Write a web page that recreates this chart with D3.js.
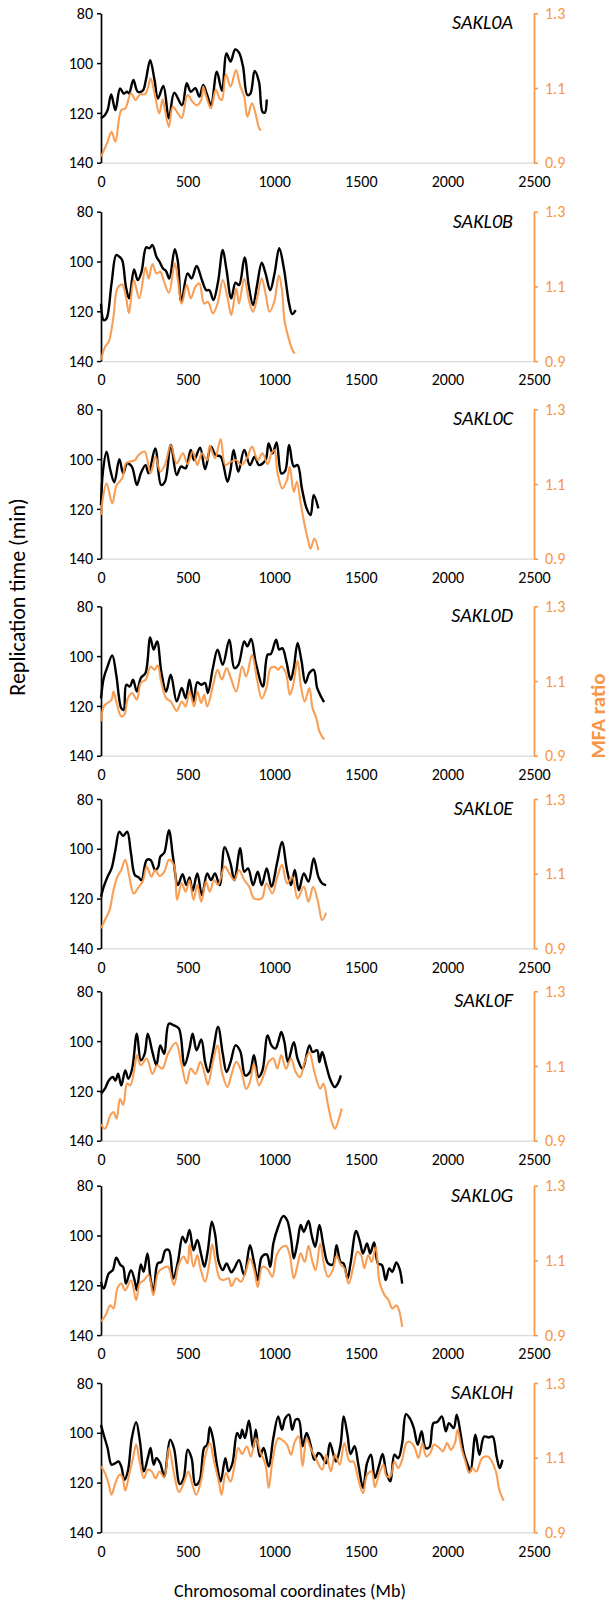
<!DOCTYPE html>
<html>
<head>
<meta charset="utf-8">
<script src="https://cdn.jsdelivr.net/npm/d3@7"></script>
<style>
  html, body { margin: 0; padding: 0; background: #ffffff; }
  svg { display: block; }
  text { font-family: Carlito, Lato, "Open Sans", sans-serif; }
</style>
</head>
<body>
<svg id="chart" width="612" height="1606"></svg>
<script>
// Chromosome labels
const chromosomes = ["SAKL0A", "SAKL0B", "SAKL0C", "SAKL0D", "SAKL0E", "SAKL0F", "SAKL0G", "SAKL0H"];

// Axis ticks
const xTicks = [0, 500, 1000, 1500, 2000, 2500];
const timeTicks = [80, 100, 120, 140];
const mfaTicks = [0.9, 1.1, 1.3];

// Replication time (min) along each chromosome: [coordinate, minutes]
const repA = [[0,122.2],[22,120.9],[38,118.9],[59,112.6],[83,118.9],[110,110.2],[131,112.2],[151,111.5],[162,112.2],[187,106.8],[212,111.5],[241,111.1],[259,106.8],[284,98.8],[309,106.8],[329,114.2],[360,109.2],[392,122.2],[423,111.9],[468,116.9],[495,108.1],[518,111.5],[545,110.1],[568,113.5],[590,108.8],[613,112.8],[635,116.9],[669,103.5],[698,111.1],[725,96.1],[748,99.4],[775,94.5],[797,95.8],[820,101.4],[845,112.8],[863,112.2],[887,103.2],[912,107.5],[932,119.5],[946,119.9],[957,114.6]];
const repB = [[0,116.9],[16,123.6],[32,122.9],[61,108.8],[88,97.4],[106,98.1],[122,99.4],[144,110.2],[162,114.8],[191,103.2],[212,107.5],[234,104.1],[261,94.3],[279,94.7],[297,93.4],[320,98.1],[338,100.1],[358,102.8],[376,103.9],[394,106.8],[426,95.1],[444,100.1],[464,116.2],[500,104.8],[523,106.8],[552,101.8],[583,107.5],[608,111.5],[626,111.5],[649,115.5],[676,108.1],[703,95.4],[725,103.5],[752,114.8],[777,108.5],[797,109.5],[829,98.4],[854,110.2],[878,117.5],[901,109.5],[928,100.5],[950,104.8],[977,111.5],[1002,104.8],[1029,94.7],[1056,102.8],[1086,116.9],[1104,121.1],[1124,119.5]];
const repC = [[0,118.5],[11,105.1],[32,97.0],[54,104.4],[77,109.3],[106,100.0],[128,105.7],[151,101.7],[178,103.0],[207,110.4],[230,105.7],[257,102.4],[275,105.7],[313,95.7],[347,110.4],[369,109.1],[403,94.3],[437,106.4],[462,103.0],[489,103.7],[518,96.3],[538,100.4],[572,95.4],[601,104.0],[635,95.0],[662,98.4],[691,99.0],[730,109.1],[748,104.4],[766,96.3],[793,105.1],[827,96.3],[860,102.4],[887,99.0],[912,102.4],[950,100.4],[968,93.7],[991,97.7],[1014,93.3],[1041,105.7],[1063,104.8],[1086,94.3],[1113,103.0],[1135,102.4],[1160,111.8],[1187,119.8],[1210,122.5],[1228,114.4],[1255,119.8]];
const repD = [[0,117.0],[16,108.8],[38,104.1],[65,99.7],[88,107.5],[117,120.9],[131,121.6],[146,111.5],[167,112.2],[185,109.5],[207,114.2],[230,108.8],[257,106.8],[284,92.5],[304,97.4],[324,94.1],[349,106.8],[376,114.2],[403,107.5],[437,118.2],[466,112.8],[489,116.9],[511,109.5],[534,118.2],[556,110.5],[579,111.5],[601,110.8],[617,114.8],[646,104.8],[673,97.4],[703,103.5],[741,93.4],[770,104.8],[793,103.5],[827,94.1],[845,96.1],[867,93.1],[894,102.8],[935,112.2],[962,99.4],[980,99.2],[1011,93.4],[1029,97.4],[1047,96.8],[1070,102.1],[1095,109.5],[1113,104.8],[1135,94.7],[1158,102.1],[1180,110.8],[1203,106.8],[1228,105.5],[1248,112.8],[1270,116.2],[1288,118.5]];
const repE = [[0,119.3],[16,115.2],[38,111.2],[61,107.9],[83,100.5],[106,93.1],[128,94.9],[151,93.1],[173,101.8],[196,110.6],[218,111.5],[234,112.6],[264,104.5],[286,104.5],[313,108.5],[331,107.2],[342,103.2],[365,101.6],[392,92.5],[417,103.9],[444,114.6],[471,110.2],[493,114.6],[511,111.5],[529,116.9],[556,109.9],[583,118.6],[613,109.9],[635,112.6],[658,109.9],[685,114.6],[714,99.4],[748,105.9],[770,112.6],[804,99.8],[827,109.2],[849,107.9],[878,114.6],[905,109.2],[928,114.6],[957,107.9],[984,115.2],[1018,105.2],[1045,97.2],[1074,108.5],[1097,114.6],[1119,108.5],[1142,116.6],[1171,109.9],[1198,113.2],[1228,103.9],[1255,111.2],[1277,113.9],[1300,114.6]];
const repF = [[0,121.1],[23,119.1],[45,115.8],[68,114.4],[83,115.8],[99,113.1],[117,117.8],[140,111.8],[158,115.1],[180,111.1],[207,97.0],[230,107.7],[252,105.1],[270,97.0],[297,104.4],[320,109.7],[342,101.7],[365,105.1],[392,93.0],[421,93.7],[450,95.0],[482,109.7],[511,103.0],[529,97.0],[552,103.7],[579,99.3],[601,108.4],[619,112.4],[646,104.4],[676,94.3],[703,105.1],[725,112.4],[748,108.4],[777,101.7],[804,104.1],[833,113.8],[860,112.4],[883,105.7],[910,114.4],[932,111.8],[962,97.7],[984,101.7],[1007,103.0],[1023,100.4],[1041,96.3],[1059,100.4],[1079,108.4],[1113,100.4],[1135,107.1],[1164,111.1],[1203,101.7],[1221,104.4],[1248,103.7],[1261,108.4],[1277,104.4],[1300,109.7],[1322,115.1],[1349,118.5],[1367,117.1],[1385,113.8]];
const repG = [[0,118.6],[16,121.3],[45,115.2],[68,113.9],[88,108.9],[113,111.9],[128,112.6],[144,119.3],[173,113.9],[196,118.6],[207,121.9],[230,111.6],[246,114.6],[268,107.2],[286,117.3],[304,122.6],[327,111.2],[349,110.6],[372,105.9],[392,105.9],[417,117.3],[444,110.6],[471,100.5],[489,102.8],[511,97.8],[534,105.9],[556,101.8],[579,107.9],[597,112.6],[617,105.9],[640,94.5],[658,99.2],[680,110.6],[703,113.9],[725,111.2],[752,114.8],[770,113.2],[797,109.9],[827,115.9],[860,103.9],[883,110.6],[905,117.9],[928,108.6],[957,107.6],[977,112.6],[995,103.2],[1023,96.5],[1052,92.2],[1074,93.8],[1097,101.2],[1113,109.2],[1135,102.5],[1153,95.8],[1171,98.5],[1198,94.2],[1216,99.8],[1237,104.5],[1261,95.8],[1284,103.9],[1311,111.2],[1338,111.6],[1360,103.9],[1383,110.6],[1401,111.2],[1423,117.3],[1441,111.2],[1473,98.2],[1495,102.5],[1513,107.2],[1536,103.2],[1554,107.2],[1577,102.8],[1599,111.2],[1622,111.9],[1644,117.9],[1664,113.2],[1682,114.6],[1705,110.8],[1723,113.2],[1739,119.3]];
const repH = [[0,96.8],[16,100.9],[38,106.1],[61,112.8],[83,112.2],[101,111.5],[117,113.5],[135,118.9],[155,115.5],[178,102.1],[203,95.7],[225,103.5],[248,115.5],[270,110.2],[286,106.1],[304,112.8],[320,110.2],[342,112.2],[365,117.5],[399,102.8],[421,106.1],[455,120.6],[477,118.2],[500,106.8],[523,110.2],[545,120.9],[568,119.5],[595,106.1],[613,104.8],[628,97.8],[646,102.1],[669,112.8],[691,119.5],[718,110.2],[736,115.5],[759,112.2],[786,100.1],[804,102.1],[815,98.8],[831,102.1],[854,95.1],[878,106.1],[894,98.8],[917,109.5],[939,106.1],[968,113.5],[995,102.1],[1023,93.4],[1045,98.8],[1063,94.3],[1086,92.7],[1104,98.8],[1124,94.7],[1142,94.7],[1164,105.4],[1187,100.1],[1210,104.8],[1232,110.8],[1255,108.1],[1270,108.8],[1300,112.2],[1322,104.1],[1356,111.5],[1383,104.8],[1401,93.4],[1423,100.8],[1441,108.5],[1464,105.4],[1486,112.8],[1513,122.2],[1536,112.2],[1559,108.8],[1581,118.2],[1604,113.5],[1626,108.5],[1649,116.6],[1671,119.5],[1694,108.8],[1716,110.2],[1739,104.1],[1761,92.5],[1784,94.3],[1806,98.1],[1829,104.8],[1851,99.4],[1874,106.1],[1896,105.8],[1919,96.1],[1941,95.7],[1968,93.4],[1991,99.4],[2009,96.1],[2036,98.1],[2054,92.7],[2077,100.8],[2095,108.1],[2117,112.8],[2133,115.5],[2162,100.8],[2185,108.8],[2212,101.5],[2239,101.9],[2261,101.5],[2284,109.5],[2302,114.2],[2318,110.8]];

// Marker frequency analysis ratio along each chromosome: [coordinate, ratio]
const mfaA = [[0,0.916],[38,0.956],[61,0.983],[83,0.956],[117,1.041],[140,1.045],[173,1.086],[200,1.068],[225,1.083],[252,1.083],[268,1.095],[286,1.126],[309,1.086],[336,1.032],[356,1.070],[369,1.041],[392,0.996],[414,1.050],[444,1.032],[466,1.019],[500,1.081],[529,1.063],[552,1.054],[579,1.068],[590,1.104],[608,1.077],[635,1.045],[662,1.095],[685,1.072],[698,1.068],[721,1.137],[748,1.104],[779,1.148],[802,1.108],[827,1.077],[845,1.023],[872,1.059],[894,1.028],[910,0.996],[923,0.986]];
const mfaB = [[0,0.903],[23,0.938],[45,0.952],[72,1.019],[95,1.095],[122,1.105],[144,1.072],[162,1.028],[189,1.117],[221,1.068],[257,1.151],[275,1.121],[297,1.160],[320,1.135],[342,1.139],[360,1.119],[392,1.083],[426,1.162],[444,1.117],[466,1.054],[495,1.104],[518,1.068],[545,1.099],[568,1.108],[595,1.054],[617,1.059],[646,1.028],[673,1.054],[703,1.117],[730,1.072],[752,1.023],[781,1.095],[797,1.054],[827,1.121],[854,1.063],[878,1.032],[901,1.068],[928,1.121],[950,1.081],[973,1.032],[1000,1.059],[1027,1.130],[1045,1.090],[1059,1.010],[1081,0.965],[1104,0.931],[1119,0.920]];
const mfaC = [[0,1.017],[9,1.057],[32,1.102],[65,1.048],[90,1.097],[122,1.115],[144,1.155],[167,1.160],[196,1.164],[218,1.178],[252,1.187],[286,1.129],[315,1.173],[342,1.133],[369,1.151],[403,1.204],[437,1.155],[473,1.182],[500,1.153],[529,1.187],[556,1.151],[583,1.182],[613,1.164],[628,1.203],[658,1.169],[691,1.220],[718,1.151],[752,1.160],[781,1.164],[811,1.151],[842,1.169],[872,1.200],[905,1.164],[932,1.182],[962,1.153],[984,1.182],[1002,1.191],[1018,1.133],[1047,1.088],[1074,1.111],[1090,1.146],[1113,1.079],[1131,1.106],[1153,1.048],[1176,0.990],[1198,0.945],[1210,0.927],[1232,0.954],[1255,0.923]];
const mfaD = [[0,0.992],[16,1.032],[38,1.041],[61,1.050],[72,1.072],[88,1.045],[117,1.005],[135,1.010],[155,1.054],[180,1.068],[207,1.050],[230,1.095],[259,1.104],[286,1.139],[309,1.130],[327,1.142],[347,1.099],[376,1.054],[403,1.045],[437,1.020],[466,1.045],[489,1.032],[511,1.072],[538,1.032],[556,1.072],[579,1.041],[595,1.063],[613,1.032],[646,1.086],[673,1.130],[698,1.104],[725,1.135],[748,1.110],[781,1.072],[815,1.139],[838,1.112],[872,1.170],[901,1.104],[928,1.053],[955,1.081],[980,1.135],[1007,1.137],[1023,1.130],[1041,1.139],[1068,1.121],[1090,1.063],[1108,1.086],[1135,1.154],[1153,1.090],[1176,1.045],[1203,1.081],[1221,1.028],[1243,1.001],[1261,0.965],[1288,0.943]];
const mfaE = [[0,0.954],[27,0.980],[50,1.003],[72,1.056],[95,1.092],[117,1.110],[140,1.137],[162,1.096],[189,1.047],[218,1.065],[241,1.079],[264,1.119],[291,1.092],[313,1.110],[338,1.094],[365,1.105],[392,1.137],[421,1.123],[439,1.030],[466,1.074],[489,1.052],[511,1.083],[534,1.030],[556,1.070],[579,1.025],[606,1.079],[628,1.052],[653,1.083],[676,1.070],[714,1.119],[741,1.101],[770,1.083],[797,1.110],[827,1.083],[856,1.065],[883,1.034],[928,1.034],[955,1.074],[989,1.047],[1018,1.092],[1045,1.123],[1074,1.074],[1104,1.092],[1135,1.034],[1171,1.065],[1198,1.025],[1225,1.065],[1255,1.020],[1277,0.976],[1300,0.995]];
const mfaF = [[0,0.945],[23,0.932],[54,0.968],[72,0.977],[90,0.959],[110,1.012],[128,0.996],[151,1.053],[169,1.048],[196,1.102],[207,1.129],[230,1.102],[264,1.120],[297,1.079],[324,1.102],[354,1.093],[387,1.133],[432,1.162],[462,1.111],[493,1.053],[518,1.093],[545,1.079],[574,1.111],[601,1.075],[617,1.050],[646,1.111],[673,1.155],[698,1.084],[730,1.044],[752,1.075],[781,1.111],[811,1.084],[838,1.039],[860,1.057],[883,1.106],[912,1.048],[939,1.075],[968,1.111],[995,1.120],[1018,1.093],[1041,1.129],[1068,1.093],[1097,1.120],[1124,1.084],[1149,1.070],[1176,1.111],[1203,1.136],[1232,1.084],[1266,1.039],[1284,1.053],[1311,0.995],[1333,0.950],[1351,0.932],[1374,0.959],[1390,0.986]];
const mfaG = [[0,0.936],[27,0.954],[54,0.980],[72,0.971],[95,1.025],[117,1.038],[140,1.020],[173,1.047],[203,0.994],[223,1.038],[248,1.047],[275,1.061],[302,1.007],[331,1.069],[358,1.079],[387,1.083],[421,1.034],[448,1.088],[477,1.110],[500,1.092],[511,1.143],[534,1.083],[556,1.114],[574,1.079],[601,1.043],[624,1.088],[642,1.143],[662,1.096],[685,1.052],[707,1.047],[736,1.052],[754,1.031],[781,1.052],[808,1.043],[838,1.074],[860,1.105],[887,1.069],[905,1.029],[932,1.083],[962,1.077],[989,1.056],[1014,1.114],[1041,1.134],[1068,1.139],[1090,1.114],[1113,1.052],[1135,1.088],[1153,1.119],[1176,1.096],[1198,1.139],[1221,1.096],[1239,1.074],[1266,1.145],[1288,1.088],[1311,1.056],[1338,1.074],[1360,1.112],[1385,1.088],[1405,1.079],[1430,1.038],[1457,1.083],[1480,1.123],[1502,1.114],[1520,1.079],[1543,1.114],[1563,1.096],[1586,1.136],[1608,1.043],[1637,1.007],[1660,0.994],[1682,0.971],[1705,0.980],[1721,0.966],[1739,0.922]];
const mfaH = [[0,1.077],[23,1.059],[45,1.028],[61,1.001],[83,1.032],[106,1.054],[122,1.050],[140,1.012],[162,1.054],[185,1.099],[203,1.135],[223,1.090],[248,1.045],[270,1.068],[293,1.063],[315,1.045],[338,1.063],[365,1.047],[392,1.126],[421,1.059],[450,1.008],[477,1.032],[505,1.063],[523,1.036],[550,1.001],[579,1.041],[601,1.103],[628,1.139],[653,1.090],[680,1.036],[696,1.001],[721,1.059],[748,1.036],[770,1.077],[793,1.126],[815,1.110],[842,1.130],[865,1.103],[894,1.152],[923,1.112],[950,1.081],[968,1.019],[991,1.095],[1023,1.152],[1045,1.148],[1074,1.135],[1097,1.108],[1119,1.143],[1142,1.157],[1164,1.077],[1187,1.152],[1210,1.126],[1243,1.095],[1277,1.068],[1300,1.108],[1327,1.063],[1351,1.108],[1378,1.081],[1405,1.139],[1435,1.090],[1457,1.090],[1486,1.041],[1513,1.005],[1536,1.054],[1563,1.063],[1581,1.021],[1604,1.054],[1631,1.081],[1649,1.050],[1671,1.050],[1694,1.090],[1716,1.072],[1739,1.095],[1766,1.141],[1788,1.141],[1811,1.127],[1833,1.099],[1856,1.139],[1878,1.103],[1901,1.112],[1923,1.135],[1953,1.126],[1975,1.117],[1998,1.139],[2020,1.121],[2043,1.139],[2059,1.175],[2081,1.126],[2104,1.090],[2126,1.059],[2144,1.072],[2167,1.063],[2201,1.099],[2234,1.103],[2257,1.090],[2280,1.063],[2302,1.010],[2325,0.985]];

const repSeries = [repA, repB, repC, repD, repE, repF, repG, repH];
const mfaSeries = [mfaA, mfaB, mfaC, mfaD, mfaE, mfaF, mfaG, mfaH];

// ---- layout ----
const ORANGE = "#F79646";
const svg = d3.select("#chart");
const plotLeft = 101, plotRight = 534, plotHeight = 149.4;
const panelTops = [13.3, 211.7, 409.3, 606.3, 799, 991.3, 1185.7, 1383];
const tickFont = 16;

const x = d3.scaleLinear().domain([0, 2500]).range([plotLeft, plotRight]);

chromosomes.forEach((name, i) => {
  const top = panelTops[i];
  const g = svg.append("g");
  const yTime = d3.scaleLinear().domain([80, 140]).range([top, top + plotHeight]);
  const yMfa = d3.scaleLinear().domain([0.9, 1.3]).range([top + plotHeight, top]);

  // x axis: light baseline, labels only
  const xAxis = g.append("g")
    .attr("transform", `translate(0,${top + plotHeight})`)
    .call(d3.axisBottom(x).tickValues(xTicks).tickSize(0).tickPadding(13).tickFormat(d3.format("d")));
  xAxis.select(".domain").attr("stroke", "#d9d9d9").attr("stroke-width", 1.2);
  xAxis.selectAll("text").attr("font-size", tickFont).attr("fill", "#000");

  // left axis: replication time
  const leftAxis = g.append("g")
    .attr("transform", `translate(${plotLeft},0)`)
    .call(d3.axisLeft(yTime).tickValues(timeTicks).tickSize(4).tickSizeOuter(0).tickPadding(4));
  leftAxis.select(".domain").attr("stroke", "#000").attr("stroke-width", 1.7);
  leftAxis.selectAll(".tick line").attr("stroke", "#000").attr("stroke-width", 1.5);
  leftAxis.selectAll("text").attr("font-size", tickFont).attr("fill", "#000");

  // right axis: MFA ratio
  const rightAxis = g.append("g")
    .attr("transform", `translate(${plotRight},0)`)
    .call(d3.axisRight(yMfa).tickValues(mfaTicks).tickSize(4).tickSizeOuter(0).tickPadding(7).tickFormat(d3.format(".1f")));
  rightAxis.select(".domain").attr("stroke", ORANGE).attr("stroke-width", 1.7);
  rightAxis.selectAll(".tick line").attr("stroke", ORANGE).attr("stroke-width", 1.5);
  rightAxis.selectAll("text").attr("font-size", tickFont).attr("fill", ORANGE);

  // replication time profile
  const timeLine = d3.line()
    .x(d => x(d[0])).y(d => yTime(d[1]))
    .curve(d3.curveCatmullRom.alpha(0.5));
  g.append("path")
    .datum(repSeries[i])
    .attr("d", timeLine)
    .attr("fill", "none")
    .attr("stroke", "#000")
    .attr("stroke-width", 2.4)
    .attr("stroke-linejoin", "round");

  // MFA ratio profile
  const mfaLine = d3.line()
    .x(d => x(d[0])).y(d => yMfa(d[1]))
    .curve(d3.curveCatmullRom.alpha(0.5));
  g.append("path")
    .datum(mfaSeries[i])
    .attr("d", mfaLine)
    .attr("fill", "none")
    .attr("stroke", ORANGE)
    .attr("stroke-width", 2.1)
    .attr("stroke-opacity", 0.92)
    .attr("stroke-linejoin", "round");

  // chromosome name
  g.append("text")
    .attr("x", 513)
    .attr("y", top + 16)
    .attr("text-anchor", "end")
    .attr("font-size", 20)
    .attr("font-style", "italic")
    .attr("fill", "#000")
    .text(name);
});

// axis titles
svg.append("text")
  .attr("transform", "translate(25,597) rotate(-90)")
  .attr("text-anchor", "middle")
  .attr("font-size", 22)
  .attr("fill", "#000")
  .text("Replication time (min)");

svg.append("text")
  .attr("transform", "translate(605,716) rotate(-90)")
  .attr("text-anchor", "middle")
  .attr("font-size", 21)
  .attr("font-weight", "bold")
  .attr("fill", ORANGE)
  .text("MFA ratio");

svg.append("text")
  .attr("x", 290)
  .attr("y", 1597)
  .attr("text-anchor", "middle")
  .attr("font-size", 18)
  .attr("fill", "#000")
  .text("Chromosomal coordinates (Mb)");
</script>
</body>
</html>
